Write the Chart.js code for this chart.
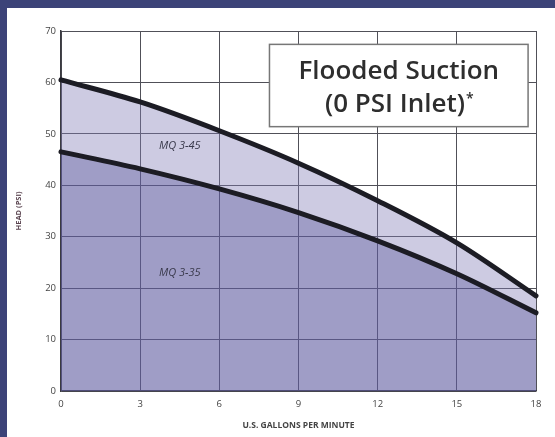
<!DOCTYPE html>
<html><head><meta charset="utf-8">
<script src="https://cdn.jsdelivr.net/npm/chart.js@4"></script>
<style>
html,body{margin:0;padding:0;background:#fff;width:555px;height:437px;overflow:hidden}
#frame{position:absolute;left:0;top:0;width:555px;height:437px;box-sizing:border-box;border-left:7px solid #3c4378;border-top:8px solid #3c4378;background:#fff}
#wrap{position:absolute;left:0;top:0;width:555px;height:437px}
</style></head><body>
<div id="frame"></div>
<div id="wrap"><canvas id="c" width="555" height="437"></canvas></div>
<script>
const gpm = [0, 3, 6, 9, 12, 15, 18];
const mq345 = [60.5, 56.2, 50.6, 44.3, 37.0, 28.8, 18.5];
const mq335 = [46.5, 43.2, 39.3, 34.7, 29.2, 22.8, 15.2];
const xTicks = [0, 3, 6, 9, 12, 15, 18];
const yTicks = [0, 10, 20, 30, 40, 50, 60, 70];
const seriesNames = ['MQ 3-35', 'MQ 3-45'];
const titleLines = ['Flooded Suction', '(0 PSI Inlet)'];
const titleMark = '*';
const xTitle = 'U.S. GALLONS PER MINUTE';
const yTitle = 'HEAD (PSI)';

const pts = (ys) => gpm.map((x, i) => ({x, y: ys[i]}));

const overlay = {
  id: 'overlay',
  afterDatasetsDraw(chart) {
    const {ctx, scales: {x, y}} = chart;
    ctx.save();
    ctx.fillStyle = '#3a3a4c';
    ctx.font = 'italic 11px "Open Sans"';
    ctx.textAlign = 'center';
    ctx.textBaseline = 'middle';
    ctx.fillText(seriesNames[1], x.getPixelForValue(4.5), y.getPixelForValue(47.7));
    ctx.fillText(seriesNames[0], x.getPixelForValue(4.5), y.getPixelForValue(23));
    const x0 = x.getPixelForValue(7.9), x1 = x.getPixelForValue(17.7);
    const y0 = y.getPixelForValue(67.4), y1 = y.getPixelForValue(51.4);
    ctx.fillStyle = '#fff';
    ctx.fillRect(x0, y0, x1 - x0, y1 - y0);
    ctx.strokeStyle = '#777';
    ctx.lineWidth = 1.5;
    ctx.strokeRect(x0, y0, x1 - x0, y1 - y0);
    ctx.fillStyle = '#2e2e2e';
    ctx.font = '600 26px "Open Sans"';
    const cx = (x0 + x1) / 2;
    ctx.fillText(titleLines[0], cx, y0 + 27);
    const w2 = ctx.measureText(titleLines[1]).width;
    ctx.font = '600 14px "Open Sans"';
    const wa = ctx.measureText(titleMark).width;
    const sx = cx - (w2 + wa) / 2;
    ctx.textAlign = 'left';
    ctx.font = '600 26px "Open Sans"';
    ctx.fillText(titleLines[1], sx, y0 + 60);
    ctx.font = '600 14px "Open Sans"';
    ctx.fillText(titleMark, sx + w2 + 1, y0 + 55);
    ctx.restore();
  }
};

new Chart(document.getElementById('c'), {
  type: 'line',
  data: {
    datasets: [
      {label: seriesNames[0], data: pts(mq335), borderColor: '#1c1c24', borderWidth: 5,
       backgroundColor: 'rgba(95,92,160,0.6)', fill: 'origin', pointRadius: 0,
       cubicInterpolationMode: 'monotone', borderCapStyle: 'round', clip: false},
      {label: seriesNames[1], data: pts(mq345), borderColor: '#1c1c24', borderWidth: 5,
       backgroundColor: 'rgba(130,125,182,0.4)', fill: '-1', pointRadius: 0,
       cubicInterpolationMode: 'monotone', borderCapStyle: 'round', clip: false}
    ]
  },
  options: {
    responsive: false, animation: false, devicePixelRatio: 1,
    layout: {padding: {top: 31, right: 19, left: 14, bottom: 6}},
    plugins: {legend: {display: false}, tooltip: {enabled: false}},
    scales: {
      x: {type: 'linear', min: 0, max: 18,
        afterBuildTicks: (s) => { s.ticks = xTicks.map(v => ({value: v})); },
        afterFit: (s) => { s.height = 40; },
        grid: {color: '#505058', lineWidth: 1, drawTicks: false},
        border: {color: '#3a3a40', width: 1.5},
        ticks: {color: '#444', font: {family: 'Open Sans', size: 9.5}, padding: 8},
        title: {display: true, text: xTitle, color: '#444', font: {family: 'Open Sans', size: 8.5, weight: 'bold'}, padding: {top: 6, bottom: 0}}
      },
      y: {min: 0, max: 70,
        afterBuildTicks: (s) => { s.ticks = yTicks.map(v => ({value: v})); },
        afterFit: (s) => { s.width = 47; },
        grid: {color: '#505058', lineWidth: 1, drawTicks: false},
        border: {color: '#3a3a40', width: 1.5},
        ticks: {color: '#444', font: {family: 'Open Sans', size: 9.5}, padding: 5},
        title: {display: true, text: yTitle, color: '#5a4450', font: {family: 'Open Sans', size: 7.5, weight: 'bold'}, padding: {top: 0, bottom: 6}}
      }
    }
  },
  plugins: [overlay]
});
</script>
</body></html>
